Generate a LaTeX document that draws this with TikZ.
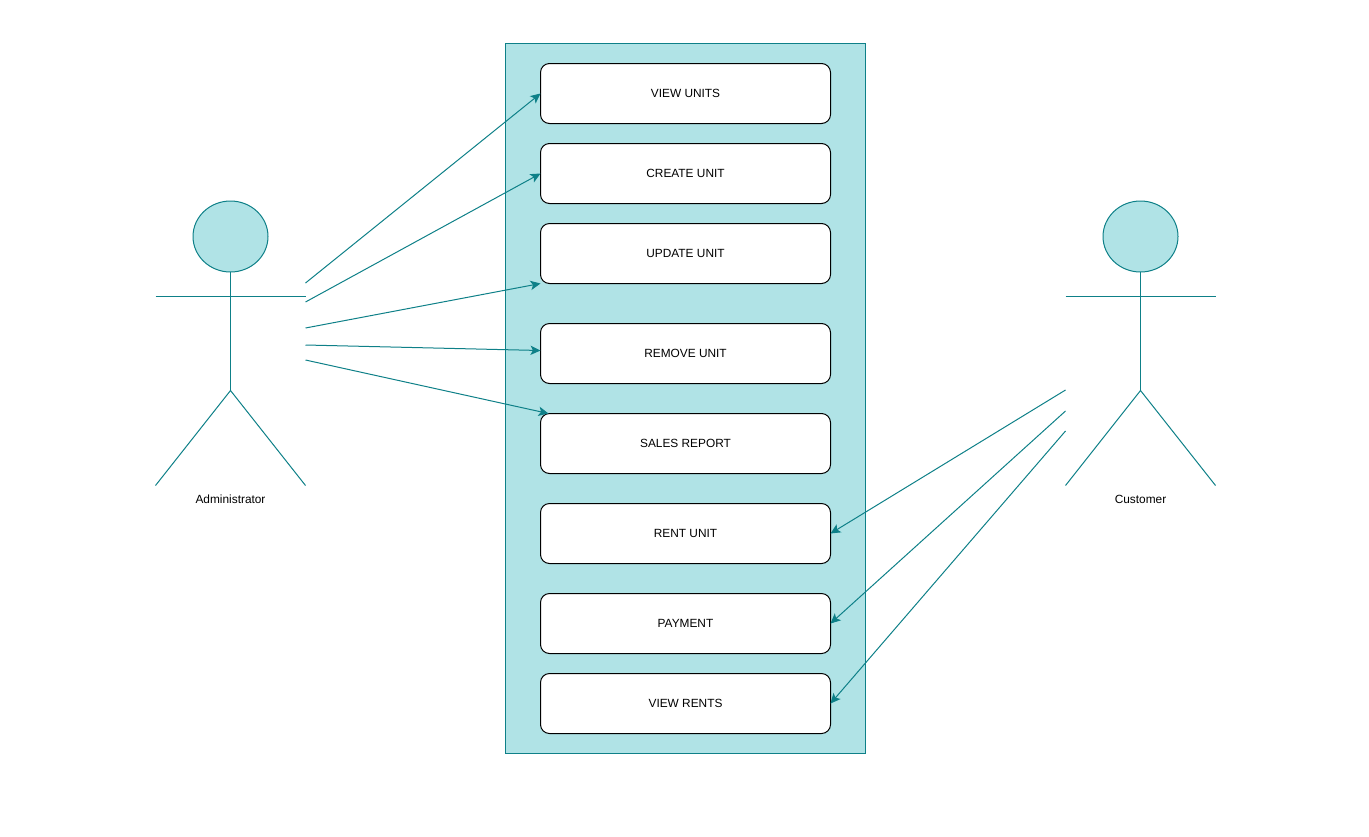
\documentclass[tikz,border=0pt]{standalone}
\usepackage{fontspec}
\setmainfont{Liberation Sans}
\usetikzlibrary{arrows.meta,shapes.geometric}
\definecolor{tealfill}{HTML}{B0E3E6}
\definecolor{tealline}{HTML}{0E8088}
\tikzset{
  every node/.style={font=\fontsize{8.9}{11}\selectfont,text=black},
  usecase/.style={draw=black,fill=white,rounded corners=6.75pt,minimum width=217.5pt,minimum height=45pt,outer sep=0pt,inner sep=0pt,line width=0.75pt},
  boundary/.style={draw=tealline,fill=tealfill,minimum width=270pt,minimum height=532.5pt,outer sep=0pt,inner sep=0pt,line width=0.75pt},
  head/.style={ellipse,draw=tealline,fill=tealfill,minimum width=56.25pt,minimum height=53.25pt,outer sep=0pt,inner sep=0pt,line width=0.75pt},
  limb/.style={draw=tealline,line width=0.75pt},
  link/.style={draw=tealline,line width=0.75pt,-{Stealth[length=7.5pt,width=7pt,inset=1.8pt]}},
  actorname/.style={inner sep=0pt,outer sep=0pt}
}
\begin{document}
\begin{tikzpicture}[x=0.75pt,y=-0.75pt]
\useasboundingbox (0,0) rectangle (1369,836);
\node[boundary] (sys) at (685.5,398.5) {};
\node[usecase] (b1) at (685.5,93.5) {VIEW UNITS};
\node[usecase] (b2) at (685.5,173.5) {CREATE UNIT};
\node[usecase] (b3) at (685.5,253.5) {UPDATE UNIT};
\node[usecase] (b4) at (685.5,353.5) {REMOVE UNIT};
\node[usecase] (b5) at (685.5,443.5) {SALES REPORT};
\node[usecase] (b6) at (685.5,533.5) {RENT UNIT};
\node[usecase] (b7) at (685.5,623.5) {PAYMENT};
\node[usecase] (b8) at (685.5,703.5) {VIEW RENTS};
% Administrator
\node[head] (ah) at (230.5,236.5) {};
\coordinate (aw) at (155.5,296);
\coordinate (ae) at (305.5,296);
\coordinate (ac) at (230.5,390.5);
\coordinate (al) at (155.5,485.5);
\coordinate (ar) at (305.5,485.5);
\draw[limb] (ah.south) -- (ac);
\draw[limb] (aw) -- (ae);
\draw[limb] (al) -- (ac) -- (ar);
\node[actorname] (at) at (230.5,499.5) {Administrator};
% Customer
\node[head] (ch) at (1140.5,236.5) {};
\coordinate (cw) at (1065.5,296);
\coordinate (ce) at (1215.5,296);
\coordinate (cc) at (1140.5,390.5);
\coordinate (cl) at (1065.5,485.5);
\coordinate (cr) at (1215.5,485.5);
\draw[limb] (ch.south) -- (cc);
\draw[limb] (cw) -- (ce);
\draw[limb] (cl) -- (cc) -- (cr);
\node[actorname] (ct) at (1140.5,499.5) {Customer};
% free ends
\coordinate (a1) at (305.5,283);
\coordinate (a2) at (305.5,302);
\coordinate (a3) at (305.5,328);
\coordinate (a4) at (305.5,345);
\coordinate (a5) at (305.5,360);
\coordinate (c1) at (1065.5,390);
\coordinate (c2) at (1065.5,411);
\coordinate (c3) at (1065.5,431);
\coordinate (t4) at (540.5,350.5);
\coordinate (t5) at (548.5,413.5);
\draw[link] (a1) -- (b1.west);
\draw[link] (a2) -- (b2.west);
\draw[link] (a3) -- (b3.south west);
\draw[link] (a4) -- (t4);
\draw[link] (a5) -- (t5);
\draw[link] (c1) -- (b6.east);
\draw[link] (c2) -- (b7.east);
\draw[link] (c3) -- (b8.east);
\end{tikzpicture}
\end{document}
